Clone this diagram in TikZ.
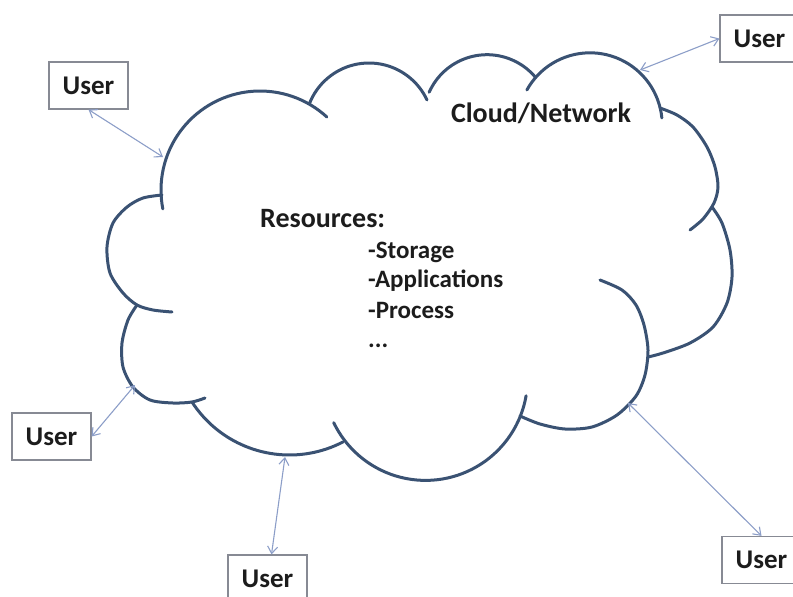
\documentclass[tikz,border=0pt]{standalone}
\usepackage{fontspec}
\setmainfont{Carlito}
\usetikzlibrary{arrows.meta}
\definecolor{cloudline}{RGB}{58,82,115}
\definecolor{linkblue}{RGB}{140,158,200}
\definecolor{boxgray}{RGB}{135,138,148}
\definecolor{ink}{RGB}{28,28,28}
\begin{document}
\begin{tikzpicture}[x=1pt,y=-1pt,
  lobe/.style={draw=cloudline,line width=3pt,line cap=round},
  userbox/.style={draw=boxgray,line width=1.2pt,minimum width=79pt,minimum height=47pt,
    inner sep=0pt,font=\bfseries\fontsize{27}{30}\selectfont,text=ink},
  link/.style={draw=linkblue,line width=1.1pt,
    {Straight Barb[length=7pt,width=10pt]}-{Straight Barb[length=7pt,width=10pt]}},
  heading/.style={inner sep=0pt,font=\bfseries\fontsize{28}{32}\selectfont,text=ink},
  item/.style={inner sep=0pt,anchor=base west,font=\bfseries\fontsize{25}{30}\selectfont,text=ink}]
\useasboundingbox (0,0) rectangle (793,597);

% cloud outline: one arc per lobe, each running a little past its junctions
% circular lobes
\draw[lobe] plot[domain=169:312.5,samples=50,variable=\t] ({260+99*cos(\t)},{190+99*sin(\t)});
\draw[lobe] plot[domain=202:335,samples=40,variable=\t] ({369+64*cos(\t)},{127+64*sin(\t)});
\draw[lobe] plot[domain=204:319.5,samples=40,variable=\t] ({487+63.3*cos(\t)},{118+63.3*sin(\t)});
\draw[lobe] plot[domain=209:354.4,samples=40,variable=\t] ({590+72.2*cos(\t)},{125+72.2*sin(\t)});
\draw[lobe] plot[domain=9.8:154.3,samples=50,variable=\t] ({425.6+102*cos(\t)},{378.4+102*sin(\t)});
\draw[lobe] plot[domain=62.6:147,samples=40,variable=\t] ({289.5+116.2*cos(\t)},{338.8+116.2*sin(\t)});
% remaining lobes
\draw[lobe] plot[smooth] coordinates {(660,108) (677,115) (693,127) (707,147) (715,167) (718,187) (714,203) (703,219) (690,230)};
\draw[lobe] plot[smooth] coordinates {(712,207) (722,223) (730,250) (732,277) (727,303) (713,327) (690,343) (663,353) (648,357)};
\draw[lobe] plot[smooth] coordinates {(600,280) (622,290) (636,305) (644,325) (648,350) (645,375) (636,396) (617,415) (592,427) (565,429) (540,424) (520,416)};
\draw[lobe] plot[smooth] coordinates {(205,398) (192,402) (173,403) (150,400) (133,387) (123,367) (122,343) (128,320) (137,305)};
\draw[lobe] plot[smooth] coordinates {(162,195) (143,198) (127,207) (113,223) (107,247) (110,273) (123,293) (137,305) (153,310) (172,312)};

% texts inside the cloud
\node[heading,anchor=base] (net) at (541,122) {Cloud/Network};
\node[heading,anchor=base west] (res) at (260,227) {Resources:};
\node[item] (storage) at (368,258) {-Storage};
\node[item] (apps) at (368,287) {-Applications};
\node[item] (proc) at (368,318) {-Process};
\node[item] (more) at (368,347) {...};

% users
\node[userbox] (u1) at (88.5,85.5) {User};
\node[userbox] (u2) at (759.5,38.5) {User};
\node[userbox] (u3) at (51.5,436.5) {User};
\node[userbox] (u4) at (267.5,578.5) {User};
\node[userbox] (u5) at (761.5,560) {User};

% attachment points on the cloud
\coordinate (c1) at (163,157);
\coordinate (c2) at (640,70);
\coordinate (c3) at (135,385);
\coordinate (c4) at (285,457);
\coordinate (c5) at (628,403);

\draw[link] (u1.south) -- (c1);
\draw[link] (c2) -- (u2.west);
\draw[link] (u3.east) -- (c3);
\draw[link] (c4) -- ([xshift=4pt]u4.north);
\draw[link] (c5) -- (u5.north);
\end{tikzpicture}
\end{document}
